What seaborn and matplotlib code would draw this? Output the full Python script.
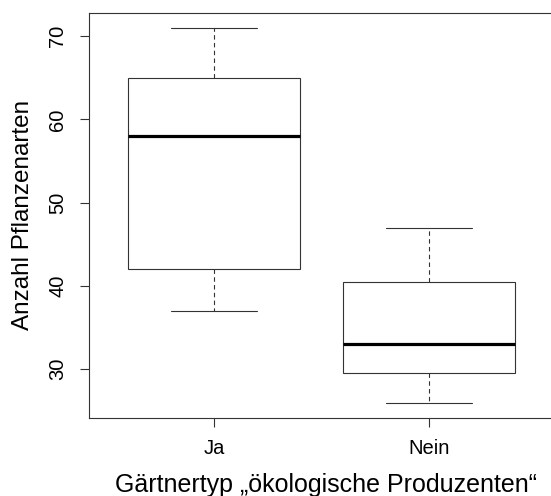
import pandas as pd
import matplotlib.pyplot as plt
import seaborn as sns

# Five-number summaries (min, Q1, median, Q3, max)
groups = ['Ja', 'Nein']
ja_values = [37, 42, 58, 65, 71]
nein_values = [26, 29.5, 33, 40.5, 47]

df = pd.DataFrame({
    'Gaertnertyp': ['Ja'] * len(ja_values) + ['Nein'] * len(nein_values),
    'Arten': ja_values + nein_values,
})

sns.set_style('ticks')
plt.rcParams['font.family'] = ['Liberation Sans', 'DejaVu Sans']
plt.rcParams['text.color'] = 'black'
plt.rcParams['axes.labelcolor'] = 'black'
plt.rcParams['xtick.labelcolor'] = 'black'
plt.rcParams['ytick.labelcolor'] = 'black'

fig = plt.figure(figsize=(5.51, 4.96), dpi=100)
# plot region as in R (right border falls just outside the image)
ax = fig.add_axes([89 / 551, 1 - 417.5 / 496, 465 / 551, (417.5 - 12.7) / 496])

line_col = '#333333'
sns.boxplot(data=df, x='Gaertnertyp', y='Arten', order=groups, ax=ax,
            width=0.8, whis=1.5, color='white', linecolor=line_col, linewidth=0.8,
            boxprops={'facecolor': 'white', 'edgecolor': line_col, 'linewidth': 0.8},
            whiskerprops={'color': line_col, 'linestyle': (0, (4, 3)), 'linewidth': 0.8},
            capprops={'color': line_col, 'linewidth': 0.8},
            medianprops={'color': 'black', 'linewidth': 2.3},
            showfliers=False)

ax.set_xlim(0.42 - 1, 2.58 - 1)
ax.set_ylim(24.2, 72.8)
ax.set_yticks([30, 40, 50, 60, 70])

for side in ['top', 'bottom', 'left', 'right']:
    ax.spines[side].set_visible(True)
    ax.spines[side].set_color(line_col)
    ax.spines[side].set_linewidth(0.8)

ax.tick_params(axis='both', length=6.5, width=0.8, color=line_col, labelsize=14.5, pad=9)
ax.tick_params(axis='y', labelrotation=90)
for lab in ax.get_yticklabels():
    lab.set_va('center')

ax.set_xlabel('Gärtnertyp „ökologische Produzenten“', fontsize=18)
ax.set_ylabel('Anzahl Pflanzenarten', fontsize=17.5)
ax.xaxis.label.set_va('center')
ax.yaxis.label.set_va('center')
ax.xaxis.set_label_coords(0.51, (417.5 - 485) / 404.8)
ax.yaxis.set_label_coords((23 - 89) / 465, 0.5)

fig.savefig('out.png', dpi=100)
